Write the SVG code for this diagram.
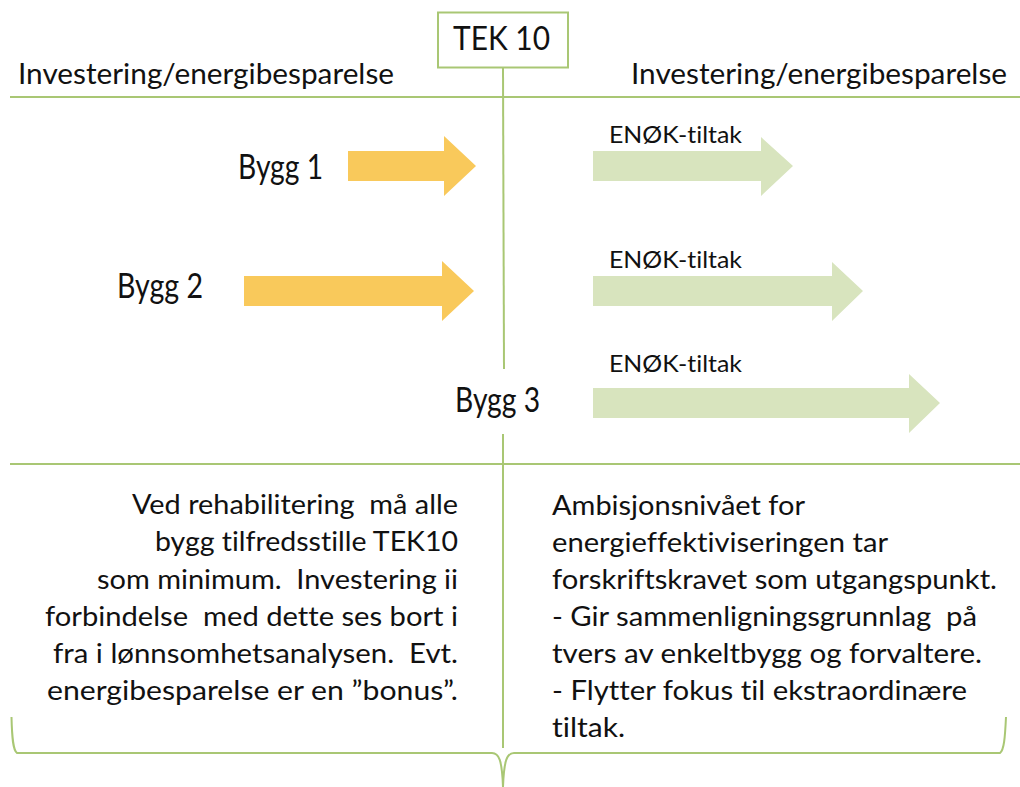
<svg xmlns="http://www.w3.org/2000/svg" width="1020" height="787" viewBox="0 0 1020 787">
<style>
.t{font-family:Lato,"Open Sans","Liberation Sans",sans-serif;fill:#111;font-variant-ligatures:none;font-feature-settings:"liga" 0;white-space:pre;}
.b{font-size:26px;}
.ln{stroke:#A9C774;stroke-width:2;fill:none;}
.or{fill:#F9C95B;}
.gr{fill:#D8E4BE;}
</style>
<rect width="1020" height="787" fill="#fff"/>
<g id="connectors">
<line class="ln" x1="10" y1="97" x2="1020" y2="97"/>
<line class="ln" x1="10" y1="464" x2="1020" y2="464"/>
<line class="ln" x1="503" y1="68" x2="504" y2="369"/>
<line class="ln" x1="503" y1="434" x2="503" y2="748"/>
<path class="ln" d="M11.5,717 C12,738 13,750 17,753 L492,753 C499,753 502,760 503,787 C504,760 507,753 514,753 L1000,753 C1004,750 1005,738 1006,717"/>
</g>
<g id="tek10">
<rect x="438" y="12.5" width="130" height="55" fill="#fff" stroke="#A9C774" stroke-width="2"/>
<text class="t" x="453" y="50" font-size="33" textLength="97" lengthAdjust="spacingAndGlyphs">TEK 10</text>
</g>
<g id="label-left">
<text class="t" x="18" y="84" font-size="29" textLength="376" lengthAdjust="spacingAndGlyphs">Investering/energibesparelse</text>
</g>
<g id="label-right">
<text class="t" x="631" y="84" font-size="29" textLength="376" lengthAdjust="spacingAndGlyphs">Investering/energibesparelse</text>
</g>
<g id="bygg1">
<text class="t" x="238" y="179" font-size="35" textLength="85" lengthAdjust="spacingAndGlyphs">Bygg 1</text>
<polygon class="or" points="348,151 444,151 444,136 476,166 444,196 444,181 348,181"/>
</g>
<g id="bygg2">
<text class="t" x="117" y="298" font-size="35" textLength="86" lengthAdjust="spacingAndGlyphs">Bygg 2</text>
<polygon class="or" points="244,276 442,276 442,261 474,291 442,321 442,306 244,306"/>
</g>
<g id="bygg3">
<text class="t" x="455" y="412" font-size="35" textLength="85" lengthAdjust="spacingAndGlyphs">Bygg 3</text>
</g>
<g id="enok1">
<text class="t" x="609" y="143" font-size="23" textLength="133" lengthAdjust="spacingAndGlyphs">ENØK-tiltak</text>
<polygon class="gr" points="593,151 761,151 761,137 793,166 761,196 761,181 593,181"/>
</g>
<g id="enok2">
<text class="t" x="609" y="268" font-size="23" textLength="133" lengthAdjust="spacingAndGlyphs">ENØK-tiltak</text>
<polygon class="gr" points="593,276 832,276 832,262 863,291 832,321 832,306 593,306"/>
</g>
<g id="enok3">
<text class="t" x="609" y="372" font-size="23" textLength="133" lengthAdjust="spacingAndGlyphs">ENØK-tiltak</text>
<polygon class="gr" points="593,388 909,388 909,374 940,403 909,433 909,418 593,418"/>
</g>
<g id="text-left">
<text class="t b" x="132" y="514" textLength="326" lengthAdjust="spacingAndGlyphs">Ved rehabilitering  må alle</text>
<text class="t b" x="155" y="551" textLength="303" lengthAdjust="spacingAndGlyphs">bygg tilfredsstille TEK10</text>
<text class="t b" x="97" y="589" textLength="361" lengthAdjust="spacingAndGlyphs">som minimum.  Investering ii</text>
<text class="t b" x="45" y="626" textLength="413" lengthAdjust="spacingAndGlyphs">forbindelse  med dette ses bort i</text>
<text class="t b" x="53" y="663" textLength="405" lengthAdjust="spacingAndGlyphs">fra i lønnsomhetsanalysen.  Evt.</text>
<text class="t b" x="47" y="700" textLength="411" lengthAdjust="spacingAndGlyphs">energibesparelse er en ”bonus”.</text>
</g>
<g id="text-right">
<text class="t b" x="552" y="515" textLength="253" lengthAdjust="spacingAndGlyphs">Ambisjonsnivået for</text>
<text class="t b" x="552" y="552" textLength="336" lengthAdjust="spacingAndGlyphs">energieffektiviseringen tar</text>
<text class="t b" x="552" y="589" textLength="445" lengthAdjust="spacingAndGlyphs">forskriftskravet som utgangspunkt.</text>
<text class="t b" x="552" y="626" textLength="425" lengthAdjust="spacingAndGlyphs">- Gir sammenligningsgrunnlag  på</text>
<text class="t b" x="552" y="663" textLength="430" lengthAdjust="spacingAndGlyphs">tvers av enkeltbygg og forvaltere.</text>
<text class="t b" x="552" y="700" textLength="415" lengthAdjust="spacingAndGlyphs">- Flytter fokus til ekstraordinære</text>
<text class="t b" x="552" y="737" textLength="73" lengthAdjust="spacingAndGlyphs">tiltak.</text>
</g>
</svg>
